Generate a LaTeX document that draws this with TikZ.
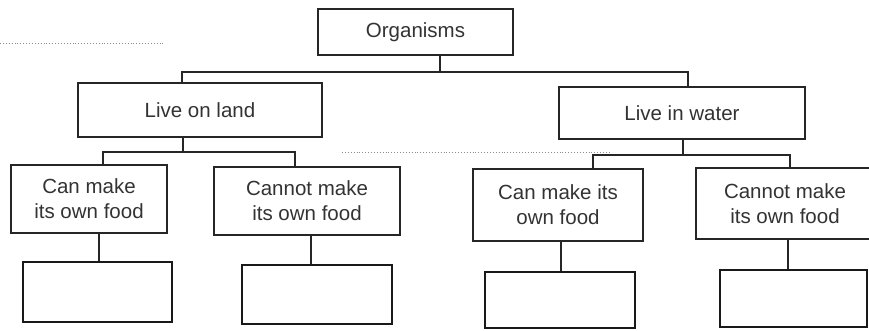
\documentclass[tikz,border=0pt]{standalone}
\usepackage{fontspec}
\setmainfont{Liberation Sans}
\begin{document}
\begin{tikzpicture}[x=1pt,y=-1pt,
  box/.style={draw=black!85,line width=1.6pt,rectangle,inner sep=0pt,align=center,
     font=\fontsize{20.5}{25}\selectfont,text=black!80},
  emptybox/.style={draw=black!90,line width=2.3pt,rectangle,inner sep=0pt},
  link/.style={draw=black!85,line width=1.4pt},
  dots/.style={draw=black!45,line width=0.9pt,dotted}]
\useasboundingbox (0,0) rectangle (869,330);
\fill[white] (0,0) rectangle (869,330);
% faint dotted scan lines
\draw[dots] (0,43) -- (165,43);
\draw[dots] (342,152) -- (610,152);
% level 1
\node[box,minimum width=195pt,minimum height=46pt] (org) at (415.5,32) {Organisms};
% level 2
\node[box,minimum width=244pt,minimum height=54pt] (land) at (200,110) {Live on land};
\node[box,minimum width=246pt,minimum height=52pt] (water) at (682,113) {Live in water};
% level 3
\node[box,minimum width=156pt,minimum height=68pt] (c1) at (89,199) {Can make\\its own food};
\node[box,minimum width=186pt,minimum height=68pt] (n1) at (307,201) {Cannot make\\its own food};
\node[box,minimum width=170pt,minimum height=72pt] (c2) at (558,205) {Can make its\\own food};
\node[box,minimum width=178pt,minimum height=71pt] (n2) at (785,203.5) {Cannot make\\its own food};
% empty boxes
\node[emptybox,minimum width=149pt,minimum height=60pt] (e1) at (97.5,292) {};
\node[emptybox,minimum width=150pt,minimum height=59pt] (e2) at (317,294.5) {};
\node[emptybox,minimum width=150pt,minimum height=56pt] (e3) at (560,300) {};
\node[emptybox,minimum width=147pt,minimum height=57pt] (e4) at (793.5,298.5) {};
% junction coordinates
\coordinate (j0) at (440,72);
\coordinate (jl) at (182,72);
\coordinate (jw) at (688,72);
\coordinate (k0) at (183,152);
\coordinate (kc1) at (103,152);
\coordinate (kn1) at (295,152);
\coordinate (m0) at (683,155);
\coordinate (mc2) at (593,155);
\coordinate (mn2) at (790,155);
\coordinate (x1) at (99,0);
\coordinate (x2) at (311,0);
\coordinate (x3) at (561,0);
\coordinate (x4) at (788,0);
% connectors
\draw[link] (org.south -| j0) -- (j0);
\draw[link] (land.north -| jl) -- (jl) -- (jw) -- (water.north -| jw);
\draw[link] (land.south -| k0) -- (k0);
\draw[link] (c1.north -| kc1) -- (kc1) -- (kn1) -- (n1.north -| kn1);
\draw[link] (water.south -| m0) -- (m0);
\draw[link] (c2.north -| mc2) -- (mc2) -- (mn2) -- (n2.north -| mn2);
\draw[link] (c1.south -| x1) -- (e1.north -| x1);
\draw[link] (n1.south -| x2) -- (e2.north -| x2);
\draw[link] (c2.south -| x3) -- (e3.north -| x3);
\draw[link] (n2.south -| x4) -- (e4.north -| x4);
\end{tikzpicture}
\end{document}
